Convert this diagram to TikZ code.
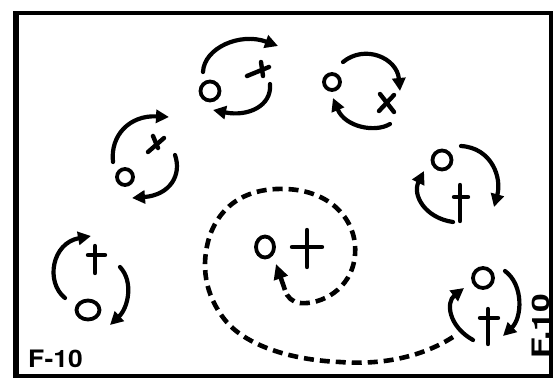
\documentclass[tikz,border=0pt]{standalone}
\usepackage{fontspec}
\setmainfont{TeX Gyre Heros}
\usetikzlibrary{arrows.meta,shapes.geometric}
\begin{document}
\begin{tikzpicture}[x=1pt,y=-1pt,
  loopline/.style={line width=4.2pt, line cap=round, -{Triangle[length=13pt,width=13pt]}},
  ring/.style={circle, draw, line width=3.8pt, inner sep=0pt},
  oval/.style={ellipse, draw, line width=3.8pt, inner sep=0pt},
  crossline/.style={line width=4.4pt, line cap=round},
  dashline/.style={line width=4.6pt, dash pattern=on 10pt off 6pt},
  lbl/.style={font=\bfseries\fontsize{24}{24}\selectfont, inner sep=0pt}]
\useasboundingbox (0,0) rectangle (554,378);
\fill[white] (0,0) rectangle (554,378);
\draw[line width=4pt] (16,13) rectangle (551,376);
\draw[line width=6.5pt] (16,11) -- (16,378);

% group 1 (top centre)
\node[ring, minimum size=19pt] (o1) at (210,91) {};
\coordinate (x1) at (258,70);
\draw[crossline] ([shift={(-11,6)}]x1) -- ([shift={(11,-3)}]x1);
\draw[crossline] ([shift={(3,-8)}]x1) -- ([shift={(5,6)}]x1);
\coordinate (a1s) at (203,72); \coordinate (a1e) at (278,46);
\draw[loopline] (a1s) .. controls (204,48) and (240,32) .. (a1e);
\coordinate (b1s) at (270,84); \coordinate (b1e) at (213,110);
\draw[loopline] (b1s) .. controls (272,106) and (248,117) .. (b1e);

% group 2 (top right)
\node[ring, minimum size=16pt] (o2) at (332,82) {};
\coordinate (x2) at (387,103);
\draw[crossline] ([shift={(-7,-9)}]x2) -- ([shift={(7,9)}]x2);
\draw[crossline] ([shift={(7,-8)}]x2) -- ([shift={(-8,8)}]x2);
\coordinate (a2s) at (343,62); \coordinate (a2e) at (400,91);
\draw[loopline] (a2s) .. controls (365,44) and (397,58) .. (a2e);
\coordinate (b2s) at (390,124); \coordinate (b2e) at (333,98);
\draw[loopline] (b2s) .. controls (375,133) and (345,127) .. (b2e);

% group 3 (left middle)
\node[ring, minimum size=16pt] (o3) at (125,177) {};
\coordinate (x3) at (155,144);
\draw[crossline] ([shift={(-7,8)}]x3) -- ([shift={(9,-6)}]x3);
\draw[crossline] ([shift={(-2,-8)}]x3) -- ([shift={(3,4)}]x3);
\coordinate (a3s) at (113,162); \coordinate (a3e) at (169,117);
\draw[loopline] (a3s) .. controls (110,135) and (130,115) .. (a3e);
\coordinate (b3s) at (175,155); \coordinate (b3e) at (132,198);
\draw[loopline] (b3s) .. controls (182,175) and (170,195) .. (b3e);

% group 4 (right middle)
\node[ring, minimum size=19pt] (o4) at (442,160) {};
\coordinate (x4) at (460,197);
\draw[crossline] ([shift={(0,-12)}]x4) -- ([shift={(0,24)}]x4);
\draw[crossline] ([shift={(-6,0)}]x4) -- ([shift={(8,0)}]x4);
\coordinate (a4s) at (461,146); \coordinate (a4e) at (494,207);
\draw[loopline] (a4s) .. controls (492,148) and (502,178) .. (a4e);
\coordinate (b4s) at (453,222); \coordinate (b4e) at (424,171);
\draw[loopline] (b4s) .. controls (425,218) and (412,195) .. (b4e);

% group 5 (bottom left)
\node[oval, minimum width=23pt, minimum height=19pt] (o5) at (88,310) {};
\coordinate (x5) at (95,255);
\draw[crossline] ([shift={(0,-9)}]x5) -- ([shift={(0,18)}]x5);
\draw[crossline] ([shift={(-7,0)}]x5) -- ([shift={(10,0)}]x5);
\coordinate (a5s) at (65,298); \coordinate (a5e) at (91,236);
\draw[loopline] (a5s) .. controls (45,282) and (52,243) .. (a5e);
\coordinate (b5s) at (120,267); \coordinate (b5e) at (110,325);
\draw[loopline] (b5s) .. controls (134,282) and (128,308) .. (b5e);

% group 6 (bottom right)
\node[ring, minimum size=20pt] (o6) at (483,278) {};
\coordinate (x6) at (488,318);
\draw[crossline] ([shift={(0,-9)}]x6) -- ([shift={(0,26)}]x6);
\draw[crossline] ([shift={(-8,0)}]x6) -- ([shift={(10,0)}]x6);
\coordinate (a6s) at (505,271); \coordinate (a6e) at (503,336);
\draw[loopline] (a6s) .. controls (524,285) and (522,318) .. (a6e);
\coordinate (b6s) at (473,340); \coordinate (b6e) at (464,288);
\draw[loopline] (b6s) .. controls (448,326) and (446,302) .. (b6e);

% centre
\node[oval, minimum width=18pt, minimum height=21pt] (o7) at (265,247) {};
\coordinate (x7) at (307,247);
\draw[crossline] ([shift={(0,-17)}]x7) -- ([shift={(0,20)}]x7);
\draw[crossline] ([shift={(-15,0)}]x7) -- ([shift={(15,0)}]x7);

% dashed path
\coordinate (d0) at (453,337);
\coordinate (d1) at (285,290);
\coordinate (d2) at (276,264);
\draw[dashline] (d0) .. controls (420,358) and (380,365) .. (340,362)
  .. controls (290,360) and (245,345) .. (225,320)
  .. controls (205,295) and (200,265) .. (210,235)
  .. controls (225,195) and (260,188) .. (285,189)
  .. controls (330,190) and (358,220) .. (355,255)
  .. controls (352,290) and (320,305) .. (300,303)
  .. controls (292,302) and (287,297) .. (d1);
\draw[line width=4.6pt, -{Triangle[length=15pt,width=14pt]}] (d1) -- (d2);

% labels
\node[lbl, anchor=base west] (t1) at (28,367) {\scalebox{1.1}[1]{F-10}};
\node[lbl, rotate=90] (t2) at (541,326) {\scalebox{1.4}[1]{F.10}};
\end{tikzpicture}
\end{document}
